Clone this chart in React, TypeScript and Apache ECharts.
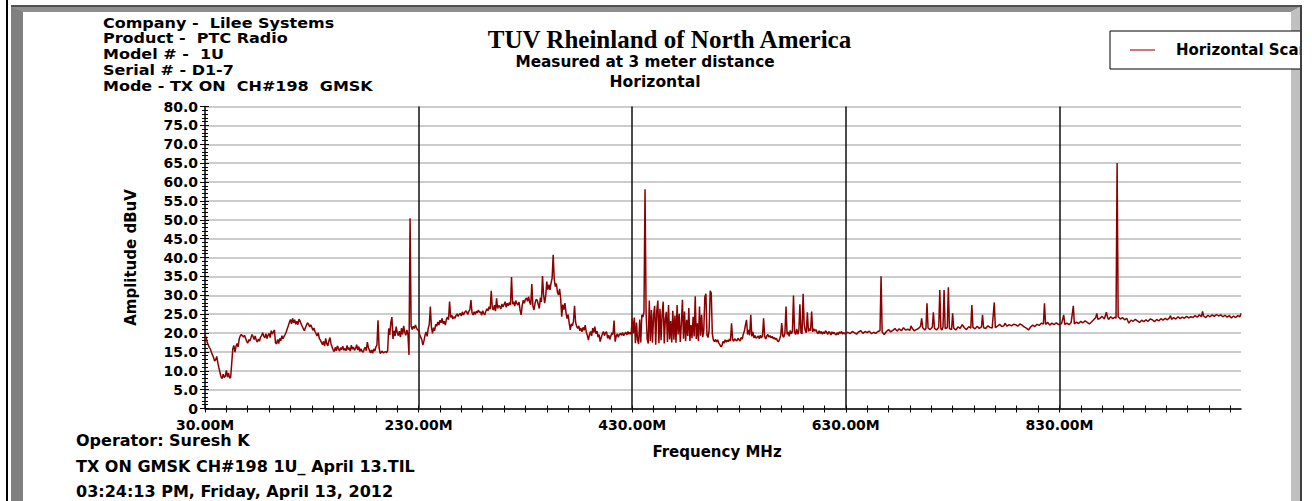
import React, { useEffect, useRef } from "react";
import * as echarts from "echarts";

// ---------- texts ----------
const headerLines = [
  "Company -  Lilee Systems",
  "Product -  PTC Radio",
  "Model # -  1U",
  "Serial # - D1-7",
  "Mode - TX ON  CH#198  GMSK",
];
const titleMain = "TUV Rheinland of North America";
const titleSub = ["Measured at 3 meter distance", "Horizontal"];
const footerLines = [
  "Operator: Suresh K",
  "TX ON GMSK CH#198 1U_ April 13.TIL",
  "03:24:13 PM, Friday, April 13, 2012",
];
const seriesName = "Horizontal Scan";
const xAxisName = "Frequency MHz";
const yAxisName = "Amplitude dBuV";

// ---------- axes ----------
const xMin = 30;
const xMax = 1000;
const xLabelValues = [30, 230, 430, 630, 830];
const xGridLines = [230, 430, 630, 830];
const xMinorStep = 20;
const yMin = 0;
const yMax = 80;
const yStep = 5;

// ---------- trace [MHz, dBuV] ----------
const seg30to230 = [
  [30, 19.5], [31, 18.8], [32, 17.5], [33, 16.9], [34, 16.2], [35, 15.8], [36, 14.9], [37, 14.2], [38, 13.5], [39, 12.6],
  [40, 12.9], [41, 13.8], [42, 12.1], [43, 10.8], [44, 9.6], [45, 8.4], [46, 7.9], [47, 9.1], [48, 8.2], [49, 8.6],
  [50, 10.1], [51, 8.3], [52, 9.4], [53, 8.1], [54, 8.2], [55, 11.9], [56, 15.8], [57, 16.7], [58, 14.9], [59, 16.4],
  [60, 17.2], [61, 16.3], [62, 18.4], [63, 19.2], [64, 19.6], [65, 19.3], [66, 18.9], [67, 19.4], [68, 18.6], [69, 17.8],
  [70, 17.3], [71, 18.2], [72, 17.9], [73, 18.7], [74, 19.6], [75, 19.1], [76, 18.3], [77, 19.2], [78, 18.1], [79, 17.6],
  [80, 18.4], [81, 17.8], [82, 18.9], [83, 19.3], [84, 20.1], [85, 19.2], [86, 18.7], [87, 19.8], [88, 18.5], [89, 19.4],
  [90, 19.9], [91, 18.8], [92, 20.6], [93, 19.7], [94, 20.3], [95, 20.8], [96, 17.4], [97, 17.1], [98, 18.3], [99, 17.2],
  [100, 18.6], [101, 17.9], [102, 19.3], [103, 18.5], [104, 19.1], [105, 19.6], [106, 20.2], [107, 21.1], [108, 21.9], [109, 22.8],
  [110, 23.6], [111, 22.4], [112, 23.9], [113, 22.7], [114, 23.5], [115, 22.3], [116, 23.1], [117, 22.2], [118, 23.7], [119, 23.2],
  [120, 22.4], [121, 21.8], [122, 21.2], [123, 20.6], [124, 21.4], [125, 22.1], [126, 22.7], [127, 22.3], [128, 21.6], [129, 22.2],
  [130, 21.5], [131, 20.7], [132, 21.3], [133, 20.4], [134, 19.8], [135, 19.2], [136, 20.1], [137, 18.6], [138, 18.1], [139, 17.5],
  [140, 16.9], [141, 17.8], [142, 16.5], [143, 18.6], [144, 17.2], [145, 16.6], [146, 17.9], [147, 18.8], [148, 17.1], [149, 16.3],
  [150, 15.5], [151, 15.1], [152, 16.2], [153, 15.3], [154, 16.6], [155, 15.8], [156, 15.2], [157, 16.1], [158, 15.6], [159, 16.5],
  [160, 15.4], [161, 15.9], [162, 15.3], [163, 16.7], [164, 15.6], [165, 16.1], [166, 15.2], [167, 16.8], [168, 15.7], [169, 16.3],
  [170, 15.4], [171, 15.9], [172, 16.9], [173, 15.5], [174, 16.4], [175, 15.1], [176, 15.8], [177, 15.2], [178, 14.9], [179, 15.7],
  [180, 16.2], [181, 15.3], [182, 17.6], [183, 16.1], [184, 15.4], [185, 14.7], [186, 15.5], [187, 14.6], [188, 15.8], [189, 15.2],
  [190, 16.3], [191, 16.8], [192, 23.4], [193, 16.1], [194, 14.6], [195, 14.9], [196, 15.2], [197, 14.7], [198, 14.9], [199, 15.1],
  [200, 14.8], [201, 15.3], [202, 21.2], [203, 19.5], [204, 22.8], [205, 24.2], [206, 18.4], [207, 20.6], [208, 19.2], [209, 21.7],
  [210, 20.1], [211, 19.3], [212, 20.5], [213, 18.9], [214, 21.3], [215, 19.6], [216, 21.9], [217, 20.2], [218, 19.4], [219, 20.8],
  [220, 19.7], [221, 14.2], [222, 50.4], [223, 21.7], [224, 20.9], [225, 21.8], [226, 21.2], [227, 22.1], [228, 21.4], [229, 20.8],
  [230, 20.8],
];
const seg230to430 = [
  [231, 19.6], [232, 18.9], [233, 18.2], [234, 16.8], [235, 17.9], [236, 19.4], [237, 20.3], [238, 19.1], [239, 21.2], [240, 22.3],
  [241, 27.0], [242, 21.5], [243, 19.9], [244, 21.4], [245, 20.6], [246, 22.3], [247, 21.8], [248, 22.9], [249, 22.1], [250, 23.4],
  [251, 22.7], [252, 23.9], [253, 22.5], [254, 23.1], [255, 22.1], [256, 23.6], [257, 24.2], [258, 23.5], [259, 28.3], [260, 24.1],
  [261, 24.8], [262, 23.7], [263, 24.3], [264, 23.9], [265, 24.6], [266, 25.1], [267, 24.4], [268, 24.9], [269, 25.2], [270, 24.5],
  [271, 25.6], [272, 24.8], [273, 25.3], [274, 25.9], [275, 25.6], [276, 24.9], [277, 25.7], [278, 26.2], [279, 28.7], [280, 25.4],
  [281, 24.8], [282, 25.6], [283, 24.9], [284, 25.8], [285, 25.3], [286, 26.1], [287, 25.5], [288, 25.6], [289, 24.7], [290, 25.9],
  [291, 25.2], [292, 24.8], [293, 25.8], [294, 26.4], [295, 25.9], [296, 27.0], [297, 26.3], [298, 31.2], [299, 26.7], [300, 26.1],
  [301, 27.4], [302, 25.8], [303, 29.2], [304, 26.5], [305, 27.3], [306, 27.0], [307, 26.4], [308, 27.7], [309, 26.9], [310, 27.5],
  [311, 28.3], [312, 26.8], [313, 27.9], [314, 27.2], [315, 28.1], [316, 27.4], [317, 34.8], [318, 27.6], [319, 28.3], [320, 27.1],
  [321, 28.6], [322, 27.8], [323, 27.4], [324, 28.2], [325, 26.1], [326, 24.8], [327, 27.3], [328, 28.7], [329, 27.9], [330, 28.9],
  [331, 29.3], [332, 28.4], [333, 29.6], [334, 28.1], [335, 27.5], [336, 33.0], [337, 27.2], [338, 26.1], [339, 27.8], [340, 28.9],
  [341, 28.7], [342, 27.6], [343, 26.5], [344, 29.4], [345, 28.2], [346, 35.1], [347, 30.2], [348, 27.9], [349, 29.8], [350, 33.6],
  [351, 31.5], [352, 32.8], [353, 31.4], [354, 33.2], [355, 34.5], [356, 40.7], [357, 34.2], [358, 32.3], [359, 33.1], [360, 30.8],
  [361, 30.1], [362, 31.7], [363, 29.2], [364, 24.3], [365, 27.5], [366, 26.2], [367, 27.9], [368, 25.4], [369, 23.8], [370, 24.9],
  [371, 22.6], [372, 20.8], [373, 22.4], [374, 21.9], [375, 23.1], [376, 27.2], [377, 22.8], [378, 21.7], [379, 21.2], [380, 21.9],
  [381, 20.6], [382, 21.3], [383, 20.3], [384, 21.5], [385, 20.7], [386, 22.1], [387, 20.2], [388, 19.3], [389, 18.1], [390, 19.6],
  [391, 20.4], [392, 19.2], [393, 21.3], [394, 20.1], [395, 21.7], [396, 19.8], [397, 20.5], [398, 18.9], [399, 19.6], [400, 17.7],
  [401, 18.8], [402, 19.7], [403, 20.4], [404, 19.3], [405, 20.1], [406, 20.3], [407, 18.6], [408, 19.4], [409, 18.3], [410, 19.2],
  [411, 20.1], [412, 19.6], [413, 23.3], [414, 17.7], [415, 19.1], [416, 19.8], [417, 18.9], [418, 19.6], [419, 19.9], [420, 19.4],
  [421, 20.1], [422, 19.3], [423, 19.8], [424, 20.2], [425, 19.5], [426, 20.4], [427, 19.7], [428, 20.2], [429, 19.6], [430, 23.9],
];
const seg430to630 = [
  [431, 19.9], [432, 24.1], [433, 17.3], [434, 22.8], [435, 18.2], [436, 17.1], [437, 23.6], [438, 17.5], [439, 24.8], [440, 24.2],
  [441, 25.6], [442, 58.1], [443, 25.2], [444, 18.4], [445, 17.2], [446, 28.6], [447, 17.9], [448, 26.1], [449, 17.4], [450, 24.7],
  [451, 27.2], [452, 16.9], [453, 25.8], [454, 28.6], [455, 17.3], [456, 26.4], [457, 18.1], [458, 24.9], [459, 28.3], [460, 17.2],
  [461, 23.8], [462, 25.6], [463, 17.6], [464, 27.4], [465, 18.3], [466, 23.2], [467, 17.5], [468, 25.9], [469, 18.2], [470, 24.6],
  [471, 17.4], [472, 27.4], [473, 19.6], [474, 25.1], [475, 17.6], [476, 22.4], [477, 28.8], [478, 18.5], [479, 25.7], [480, 17.8],
  [481, 23.5], [482, 19.2], [483, 26.6], [484, 17.9], [485, 22.1], [486, 18.6], [487, 24.3], [488, 19.1], [489, 29.7], [490, 18.4],
  [491, 22.6], [492, 17.8], [493, 27.0], [494, 19.3], [495, 24.8], [496, 18.9], [497, 20.6], [498, 29.6], [499, 30.4], [500, 19.4],
  [501, 18.8], [502, 20.7], [503, 31.2], [504, 30.6], [505, 19.8], [506, 18.1], [507, 17.7], [508, 18.3], [509, 17.6], [510, 18.2],
  [511, 17.4], [512, 16.9], [513, 16.4], [514, 16.6], [515, 17.8], [516, 17.3], [517, 18.2], [518, 17.6], [519, 18.1], [520, 17.7],
  [521, 18.4], [522, 17.9], [523, 22.6], [524, 18.3], [525, 17.8], [526, 18.5], [527, 18.1], [528, 17.9], [529, 18.6], [530, 18.2],
  [531, 17.9], [532, 18.8], [533, 18.4], [534, 19.7], [535, 20.5], [536, 22.1], [537, 23.5], [538, 19.6], [539, 20.8], [540, 19.4],
  [541, 24.8], [542, 19.1], [543, 20.3], [544, 18.7], [545, 19.3], [546, 18.6], [547, 18.9], [548, 19.2], [549, 18.5], [550, 19.4],
  [551, 18.7], [552, 19.3], [553, 23.9], [554, 19.1], [555, 18.4], [556, 19.2], [557, 19.6], [558, 18.9], [559, 19.3], [560, 18.7],
  [561, 19.1], [562, 18.5], [563, 18.8], [564, 18.3], [565, 18.6], [566, 17.9], [567, 17.7], [568, 18.4], [569, 19.3], [570, 22.6],
  [571, 19.2], [572, 18.9], [573, 20.1], [574, 27.0], [575, 19.6], [576, 20.3], [577, 19.1], [578, 20.7], [579, 19.8], [580, 20.4],
  [581, 29.9], [582, 20.2], [583, 19.6], [584, 21.1], [585, 19.7], [586, 20.5], [587, 27.6], [588, 20.1], [589, 19.8], [590, 30.4],
  [591, 22.3], [592, 20.6], [593, 20.1], [594, 25.5], [595, 20.4], [596, 21.2], [597, 20.6], [598, 25.7], [599, 20.3], [600, 21.1],
  [601, 20.5], [602, 20.9], [603, 20.2], [604, 19.8], [605, 20.6], [606, 19.9], [607, 20.4], [608, 19.7], [609, 20.3], [610, 19.8],
  [611, 20.6], [612, 20.2], [613, 19.6], [614, 20.4], [615, 20.1], [616, 19.5], [617, 20.3], [618, 19.8], [619, 20.2], [620, 19.7],
  [621, 19.5], [622, 20.1], [623, 19.6], [624, 20.3], [625, 19.9], [626, 20.4], [627, 19.7], [628, 20.1], [629, 19.8], [630, 19.9],
];
const seg630to830 = [
  [632, 20.2], [634, 19.8], [636, 20.4], [638, 20.1], [640, 19.7], [642, 20.3], [644, 20.6], [646, 19.9], [648, 20.4], [650, 20.1],
  [652, 20.5], [654, 19.8], [656, 20.2], [658, 19.9], [660, 20.4], [662, 20.6], [663, 35.0], [664, 20.3], [666, 19.6], [668, 20.4],
  [670, 20.9], [672, 20.3], [674, 20.7], [676, 21.2], [678, 20.5], [680, 21.1], [682, 20.6], [684, 21.4], [686, 20.8], [688, 21.0],
  [690, 20.7], [691, 21.9], [692, 21.3], [694, 20.6], [696, 20.9], [698, 21.2], [700, 21.8], [701, 23.9], [702, 21.4], [704, 20.8],
  [705, 21.2], [706, 27.9], [707, 21.3], [709, 20.9], [711, 21.6], [712, 25.5], [713, 21.2], [715, 20.8], [717, 21.5], [718, 31.4],
  [719, 21.1], [720, 20.8], [721, 21.6], [722, 31.4], [723, 21.2], [725, 21.4], [726, 32.1], [727, 21.2], [729, 20.9], [730, 25.2],
  [731, 21.3], [733, 20.8], [735, 21.6], [737, 21.2], [739, 22.2], [741, 21.4], [743, 20.9], [745, 21.7], [747, 21.3], [748, 27.4],
  [749, 21.5], [751, 21.1], [753, 21.8], [755, 21.2], [757, 21.6], [758, 24.8], [759, 21.4], [761, 21.2], [763, 21.9], [765, 21.5],
  [767, 21.3], [769, 28.1], [770, 21.4], [772, 21.8], [774, 22.3], [776, 21.7], [778, 21.9], [779, 22.6], [781, 21.8], [783, 22.2],
  [785, 21.9], [787, 22.3], [789, 22.2], [791, 21.8], [793, 22.4], [795, 22.1], [797, 21.6], [799, 21.3], [801, 20.8], [803, 21.6],
  [805, 22.1], [807, 21.7], [809, 22.3], [811, 22.0], [813, 22.6], [815, 22.4], [816, 27.9], [817, 22.3], [819, 22.8], [821, 22.1],
  [823, 22.6], [825, 22.2], [827, 22.7], [829, 22.3], [830, 22.2],
];
const seg830to1000 = [
  [832, 22.5], [834, 24.8], [835, 22.3], [837, 22.6], [839, 22.2], [841, 22.8], [843, 27.2], [844, 22.4], [846, 22.9], [848, 22.5],
  [850, 23.1], [852, 22.7], [854, 23.2], [856, 22.8], [858, 22.4], [860, 22.9], [862, 23.5], [864, 24.1], [865, 25.2], [866, 23.6],
  [868, 23.9], [870, 24.4], [872, 23.7], [874, 25.5], [875, 24.2], [876, 23.6], [878, 24.3], [880, 23.8], [882, 24.2], [883, 23.9],
  [884, 65.0], [885, 24.3], [887, 23.7], [889, 24.1], [891, 23.5], [893, 23.9], [895, 22.6], [897, 23.4], [899, 23.1], [901, 23.6],
  [903, 23.2], [905, 22.8], [907, 23.4], [909, 23.0], [911, 23.5], [913, 23.1], [915, 23.7], [917, 23.5], [919, 23.0], [921, 23.6],
  [923, 23.2], [925, 23.8], [927, 23.4], [929, 23.9], [931, 23.5], [933, 24.0], [934, 24.6], [935, 23.6], [937, 24.1], [939, 23.7],
  [941, 24.3], [943, 23.8], [945, 24.2], [947, 23.9], [949, 24.4], [951, 24.0], [953, 24.3], [955, 24.1], [957, 24.6], [959, 24.2],
  [961, 24.8], [963, 24.3], [964, 25.7], [965, 24.5], [967, 24.1], [969, 24.7], [971, 24.3], [973, 24.8], [975, 24.4], [977, 24.9],
  [979, 24.5], [981, 24.8], [983, 24.3], [985, 24.7], [987, 24.2], [989, 24.6], [991, 24.0], [993, 24.5], [995, 24.1], [997, 24.6],
  [999, 24.3], [1000, 25.2],
];

const SANS = "DejaVu Sans";
const SERIF = "Liberation Serif";

export default function App() {
  const ref = useRef<HTMLDivElement>(null);

  useEffect(() => {
    if (!ref.current) return;
    const chart = echarts.init(ref.current, undefined, { renderer: "svg" });

    const trace = [...seg30to230, ...seg230to430, ...seg430to630, ...seg630to830, ...seg830to1000];
    const minorTicks: number[] = [];
    for (let v = xMin; v < xMax; v += xMinorStep) minorTicks.push(v);

    const txt = (text: string, x: number, y: number, size: number, align = "left", font = SANS, extra: any = {}) => ({
      type: "text",
      x,
      y,
      z: 20,
      silent: true,
      ...extra,
      style: {
        text,
        fill: "#000",
        font: `bold ${size}px "${font}"`,
        textAlign: align,
        textVerticalAlign: "middle",
      },
    });

    const graphics: any[] = [
      // frame
      { type: "rect", shape: { x: 6, y: 0, width: 2, height: 501 }, style: { fill: "#000" }, z: 1, silent: true },
      { type: "rect", shape: { x: 11, y: 7, width: 12, height: 494 }, style: { fill: "#808080" }, z: 1, silent: true },
      { type: "polygon", shape: { points: [[11, 7], [1300, 7], [1291, 12], [23, 12]] }, style: { fill: "#8e8e8e" }, z: 1, silent: true },
      { type: "polygon", shape: { points: [[1291, 12], [1300, 7], [1300, 501], [1291, 501]] }, style: { fill: "#c0c0c0" }, z: 1, silent: true },
      { type: "rect", shape: { x: 11, y: 5, width: 1291, height: 2 }, style: { fill: "#505050" }, z: 1, silent: true },
      { type: "rect", shape: { x: 1300, y: 5, width: 2, height: 496 }, style: { fill: "#404040" }, z: 30, silent: true },
      { type: "rect", shape: { x: 1302, y: 0, width: 10, height: 501 }, style: { fill: "#fff" }, z: 30, silent: true },
      // header block (horizontally widened like the reference)
      ...headerLines.map((t, i) => txt(t, 103, 23 + i * 15.75, 14, "left", SANS, { scaleX: 1.143 })),
      txt(titleMain, 669.5, 39, 25, "center", SERIF),
      txt(titleSub[0], 645, 62, 15.3, "center"),
      txt(titleSub[1], 655, 82, 15.6, "center"),
      ...footerLines.map((t, i) => txt(t, 76, [440, 466, 491][i], 16)),
    ];

    chart.setOption({
      animation: false,
      backgroundColor: "#fff",
      grid: { left: 205, right: 71, top: 106.5, bottom: 92.5, containLabel: false, outerBoundsMode: "none" },
      legend: {
        show: true,
        left: 1110,
        top: 31,
        z: 5,
        orient: "horizontal",
        padding: [11, 40, 11, 20],
        itemWidth: 25,
        itemHeight: 1.5,
        icon: "rect",
        backgroundColor: "#fff",
        borderColor: "#000",
        borderWidth: 1,
        borderRadius: 0,
        selectedMode: false,
        data: [{ name: seriesName, icon: "rect", itemStyle: { color: "#c04848" } }],
        textStyle: {
          fontFamily: SANS,
          fontWeight: "bold",
          fontSize: 15,
          color: "#000",
          padding: [0, 0, 0, 16],
          lineHeight: 16,
        },
      },
      xAxis: [
        {
          type: "value",
          min: xMin,
          max: xMax,
          position: "bottom",
          name: xAxisName,
          nameLocation: "middle",
          nameGap: 36,
          nameTextStyle: { fontFamily: SANS, fontWeight: "bold", fontSize: 15, color: "#000", padding: [0, 12, 0, 0] },
          axisLine: { show: true, lineStyle: { color: "#000", width: 1.5 } },
          axisTick: { show: true, inside: false, length: 4, customValues: minorTicks, lineStyle: { color: "#000", width: 1 } },
          axisLabel: {
            show: true,
            customValues: xLabelValues,
            margin: 9,
            fontFamily: SANS,
            fontWeight: "bold",
            fontSize: 14,
            color: "#000",
            formatter: (v: number) => v.toFixed(2) + "M",
          },
          splitLine: { show: false },
        },
        {
          type: "value",
          min: xMin,
          max: xMax,
          position: "bottom",
          offset: 0,
          axisLine: { show: false },
          axisTick: { show: true, inside: true, length: 3, customValues: minorTicks, lineStyle: { color: "#000", width: 1 } },
          axisLabel: { show: false },
          splitLine: { show: false },
        },
      ],
      yAxis: [
        {
          type: "value",
          min: yMin,
          max: yMax,
          interval: yStep,
          position: "left",
          name: yAxisName,
          nameLocation: "middle",
          nameGap: 67,
          nameRotate: 90,
          nameTextStyle: { fontFamily: SANS, fontWeight: "bold", fontSize: 15, color: "#000" },
          axisLine: { show: true, lineStyle: { color: "#000", width: 1.5 } },
          axisTick: { show: true, inside: false, length: 5, lineStyle: { color: "#000", width: 1 } },
          minorTick: { show: true, splitNumber: 5, length: 3, lineStyle: { color: "#000", width: 1 } },
          axisLabel: {
            margin: 7,
            fontFamily: SANS,
            fontWeight: "bold",
            fontSize: 14,
            color: "#000",
            formatter: (v: number) => (v === 0 ? "0" : v.toFixed(1)),
          },
          splitLine: { show: true, lineStyle: { color: "#cccccc", width: 2 } },
        },
        {
          type: "value",
          min: yMin,
          max: yMax,
          interval: yStep,
          position: "left",
          offset: 0,
          axisLine: { show: false },
          axisTick: { show: true, inside: true, length: 4, lineStyle: { color: "#000", width: 1 } },
          minorTick: { show: true, splitNumber: 5, length: 3, lineStyle: { color: "#000", width: 1 } },
          axisLabel: { show: false },
          splitLine: { show: false },
        },
      ],
      series: [
        {
          name: seriesName,
          type: "line",
          xAxisIndex: 0,
          yAxisIndex: 0,
          data: trace,
          symbol: "none",
          showSymbol: false,
          color: "#8b0000",
          lineStyle: { color: "#8b0000", width: 1.5 },
          z: 3,
          silent: true,
          markLine: {
            silent: true,
            symbol: ["none", "none"],
            label: { show: false },
            lineStyle: { color: "#111", width: 1.5, type: "solid" },
            z: 1,
            data: xGridLines.map((v) => ({ xAxis: v })),
          },
        },
      ],
      graphic: graphics,
    });

    return () => chart.dispose();
  }, []);

  return <div ref={ref} style={{ position: "fixed", left: 0, top: 0, width: 1312, height: 501 }} />;
}
